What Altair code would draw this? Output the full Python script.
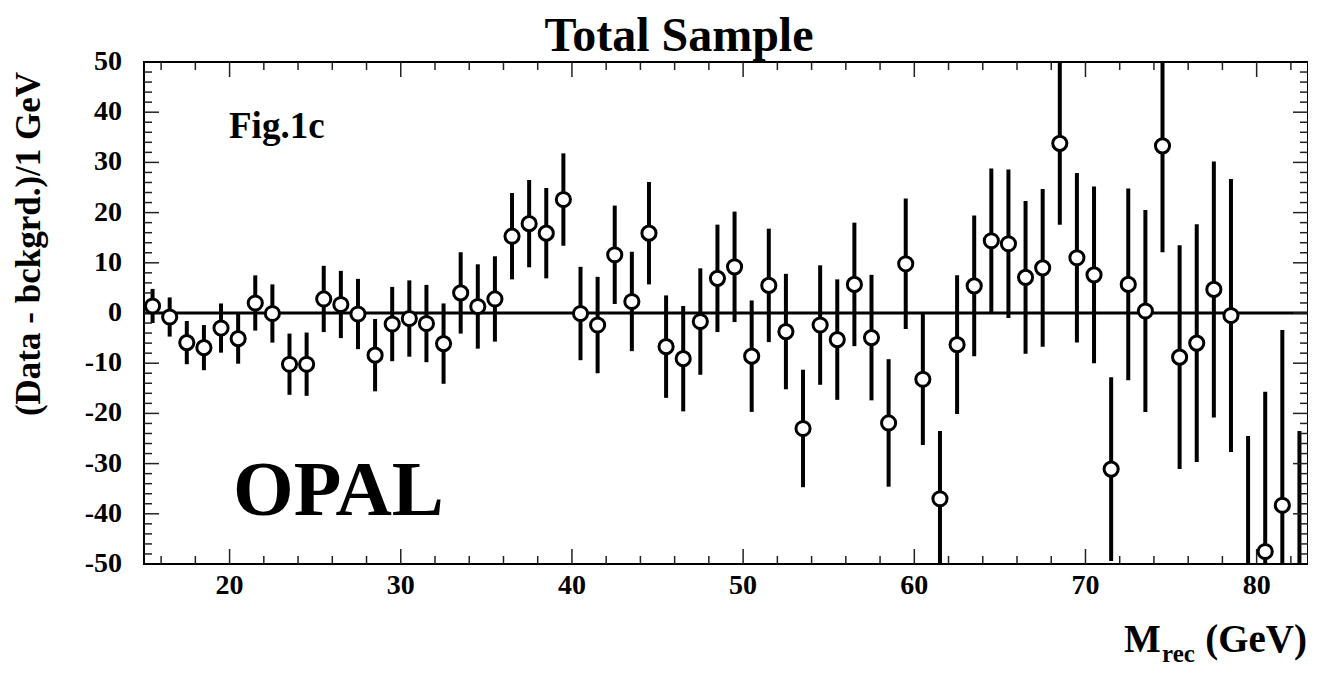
import altair as alt
import pandas as pd

# ---- data ----
mass = [15.5, 16.5, 17.5, 18.5, 19.5, 20.5, 21.5, 22.5, 23.5, 24.5,
        25.5, 26.5, 27.5, 28.5, 29.5, 30.5, 31.5, 32.5, 33.5, 34.5,
        35.5, 36.5, 37.5, 38.5, 39.5, 40.5, 41.5, 42.5, 43.5, 44.5,
        45.5, 46.5, 47.5, 48.5, 49.5, 50.5, 51.5, 52.5, 53.5, 54.5,
        55.5, 56.5, 57.5, 58.5, 59.5, 60.5, 61.5, 62.5, 63.5, 64.5,
        65.5, 66.5, 67.5, 68.5, 69.5, 70.5, 71.5, 72.5, 73.5, 74.5,
        75.5, 76.5, 77.5, 78.5, 79.5, 80.5, 81.5, 82.5]
diff = [1.4, -0.8, -5.9, -6.9, -3.0, -5.1, 2.0, -0.1, -10.2, -10.2,
        2.8, 1.7, -0.2, -8.4, -2.2, -1.1, -2.1, -6.1, 4.0, 1.3,
        2.8, 15.3, 17.8, 15.9, 22.6, -0.1, -2.4, 11.6, 2.3, 15.9,
        -6.7, -9.1, -1.7, 6.9, 9.2, -8.6, 5.5, -3.7, -23.0, -2.4,
        -5.3, 5.7, -4.9, -21.9, 9.8, -13.2, -37.0, -6.3, 5.4, 14.4,
        13.8, 7.1, 9.0, 33.8, 11.0, 7.6, -31.1, 5.7, 0.4, 33.3,
        -8.8, -6.0, 4.7, -0.5, -54.0, -47.5, -38.3, -61.0]
err = [3.4, 3.9, 4.3, 4.5, 4.9, 5.0, 5.5, 5.8, 6.1, 6.3,
       6.6, 6.7, 7.0, 7.2, 7.4, 7.6, 7.7, 8.0, 8.1, 8.4,
       8.5, 8.6, 8.7, 9.0, 9.2, 9.3, 9.6, 9.8, 9.9, 10.2,
       10.2, 10.5, 10.6, 10.7, 11.0, 11.1, 11.3, 11.5, 11.7, 11.9,
       12.0, 12.3, 12.5, 12.7, 13.0, 13.1, 13.5, 13.8, 14.0, 14.4,
       14.8, 15.2, 15.7, 16.2, 16.9, 17.6, 18.3, 19.1, 20.1, 21.2,
       22.3, 23.7, 25.5, 27.2, 29.5, 31.8, 34.9, 37.5]

x_major = [20, 30, 40, 50, 60, 70, 80]
x_minor = [16, 18, 22, 24, 26, 28, 32, 34, 36, 38, 42, 44, 46, 48,
           52, 54, 56, 58, 62, 64, 66, 68, 72, 74, 76, 78, 82]
y_major = [-50, -40, -30, -20, -10, 0, 10, 20, 30, 40, 50]
y_minor = [-48, -46, -44, -42, -38, -36, -34, -32, -28, -26, -24, -22,
           -18, -16, -14, -12, -8, -6, -4, -2, 2, 4, 6, 8, 12, 14, 16, 18,
           22, 24, 26, 28, 32, 34, 36, 38, 42, 44, 46, 48]

x_domain = [15, 83]
y_domain = [-50, 50]

title_text = "Total Sample"
ytitle_text = "(Data - bckgrd.)/1 GeV"
fig_text = "Fig.1c"
opal_text = "OPAL"

# ---- chart ----
FONT = "Liberation Serif"
W, H = 1164, 502

xs = alt.Scale(domain=x_domain, nice=False, zero=False)
ys = alt.Scale(domain=y_domain, nice=False, zero=False)

df = pd.DataFrame({"m": mass, "d": diff, "e": err})
df["lo"] = df["d"] - df["e"]
df["hi"] = df["d"] + df["e"]

base = alt.Chart(df)

bars = base.mark_rule(color="black", strokeWidth=4, clip=True).encode(
    x=alt.X("m:Q", scale=xs, axis=None),
    y=alt.Y("lo:Q", scale=ys, axis=None),
    y2="hi:Q")

zero = alt.Chart(pd.DataFrame({"z": [0]})).mark_rule(color="black", strokeWidth=3).encode(
    y=alt.Y("z:Q", scale=ys, axis=None))

pts = base.mark_point(shape="circle", size=200, filled=True, fill="white",
                      stroke="black", strokeWidth=3, opacity=1, fillOpacity=1,
                      strokeOpacity=1, clip=True).encode(
    x=alt.X("m:Q", scale=xs, axis=None),
    y=alt.Y("d:Q", scale=ys, axis=None))


def xticks(vals, length):
    d = pd.DataFrame({"v": vals})
    b = alt.Chart(d).mark_rule(color="#222", strokeWidth=1.5).encode(
        x=alt.X("v:Q", scale=xs, axis=None), y=alt.value(H), y2=alt.value(H - length))
    t = alt.Chart(d).mark_rule(color="#222", strokeWidth=1.5).encode(
        x=alt.X("v:Q", scale=xs, axis=None), y=alt.value(0), y2=alt.value(length))
    return [b, t]


def yticks(vals, length):
    d = pd.DataFrame({"v": vals})
    l = alt.Chart(d).mark_rule(color="#222", strokeWidth=1.5).encode(
        y=alt.Y("v:Q", scale=ys, axis=None), x=alt.value(0), x2=alt.value(length))
    r = alt.Chart(d).mark_rule(color="#222", strokeWidth=1.5).encode(
        y=alt.Y("v:Q", scale=ys, axis=None), x=alt.value(W), x2=alt.value(W - length))
    return [l, r]


# tick labels placed through the scales
xlab = alt.Chart(pd.DataFrame({"v": x_major, "s": [str(v) for v in x_major]})).mark_text(
    align="center", baseline="top", font=FONT, fontWeight="bold", fontSize=28,
    color="black").encode(
    x=alt.X("v:Q", scale=xs, axis=None), y=alt.value(H + 8), text="s:N")
ylab = alt.Chart(pd.DataFrame({"v": y_major, "s": [str(v) for v in y_major]})).mark_text(
    align="right", baseline="middle", font=FONT, fontWeight="bold", fontSize=28,
    color="black").encode(
    y=alt.Y("v:Q", scale=ys, axis=None), x=alt.value(-22), text="s:N")


def label(text, x, y, size, align="left", baseline="alphabetic", angle=0):
    return alt.Chart(pd.DataFrame({"t": [text]})).mark_text(
        align=align, baseline=baseline, font=FONT, fontWeight="bold",
        fontSize=size, color="black", angle=angle).encode(
        x=alt.value(x), y=alt.value(y), text="t:N")


layers = [bars, zero]
layers += xticks(x_major, 15) + xticks(x_minor, 8)
layers += yticks(y_major[1:-1], 15) + yticks(y_minor, 8)
layers += [pts, xlab, ylab]
layers += [
    label(title_text, 535, -11, 48, align="center"),
    label(ytitle_text, -104, 182, 35, align="center", angle=270),
    label(fig_text, 85, 76, 37),
    label(opal_text, 89, 453, 78),
    label("M", 980, 590, 39),
    label("rec", 1018, 600, 25),
    label("(GeV)", 1163, 590, 39, align="right"),
]

chart = alt.layer(*layers).properties(
    width=W, height=H,
    autosize=alt.AutoSizeParams(type="none"),
    padding={"left": 136, "top": 54, "right": 0, "bottom": 104},
).configure_view(stroke="black", strokeWidth=2)

chart.save("out.html", embed_options={"renderer": "svg", "actions": False})
